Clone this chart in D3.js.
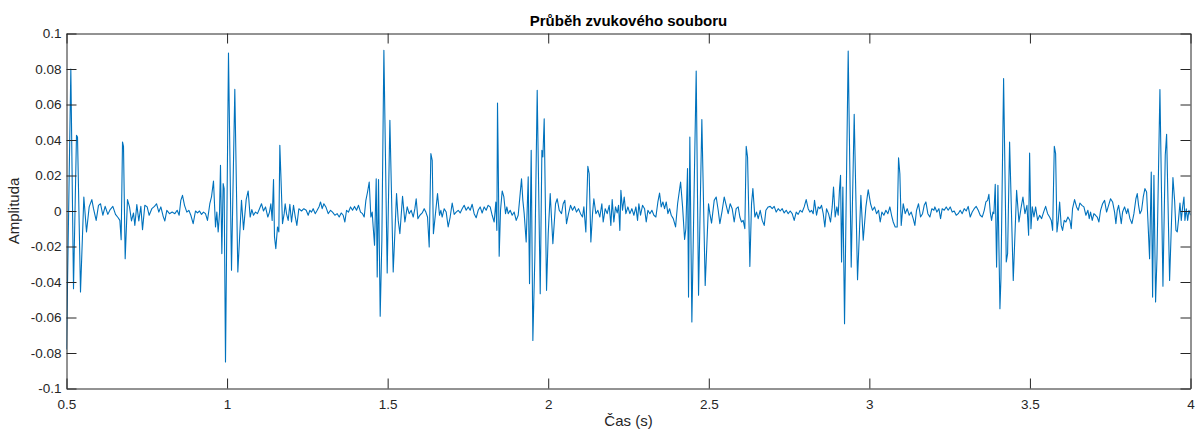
<!DOCTYPE html>
<html>
<head>
<meta charset="utf-8">
<script src="https://cdn.jsdelivr.net/npm/d3@7"></script>
<style>
  html, body { margin: 0; padding: 0; background: #ffffff; }
  svg { display: block; font-family: "Liberation Sans", Arial, Helvetica, sans-serif; }
</style>
</head>
<body>
<svg id="chart" width="1198" height="432"></svg>
<script>
// Waveform samples: [time (s), amplitude]
const waveform = [
[0.5,-0.078],[0.5135,0.080],[0.5218,-0.0438],[0.5311,0.0426],[0.5343,0.0417],[0.5436,-0.0456],[0.554,0.0079],[0.5623,-0.0118],
[0.5706,0.0023],[0.5789,0.0064],[0.5841,0.0013],[0.5924,-0.0053],[0.5996,0.0032],[0.6059,0.0041],[0.6131,-0.0024],[0.6204,0.0026],
[0.6287,-0.0019],[0.636,0.0008],[0.6443,0.0026],[0.6526,-0.0019],[0.6609,-0.0038],[0.6661,-0.0053],[0.6702,-0.0162],[0.6744,0.0389],
[0.6775,0.0364],[0.6827,-0.0269],[0.6899,0.0064],[0.6962,0.0023],[0.7024,-0.0056],[0.7086,-0.0011],[0.7128,-0.0081],[0.719,0.0036],
[0.7252,-0.0056],[0.7315,0.0026],[0.7367,-0.0105],[0.7439,0.0032],[0.7512,0.0023],[0.7574,-0.0024],[0.7657,0.0013],[0.774,0.0026],
[0.7803,0.0041],[0.7875,-0.0006],[0.7938,0.0023],[0.801,-0.003],[0.8062,-0.0056],[0.8124,0.0004],[0.8207,-0.0015],[0.829,-0.0006],
[0.8374,-0.0015],[0.8446,0.0004],[0.8508,-0.0024],[0.856,0.006],[0.8612,0.0088],[0.8675,0.0032],
[0.8747,-0.0006],[0.8809,0.0004],[0.8872,-0.0024],[0.8944,-0.0071],[0.9017,0],[0.9079,-0.0011],[0.9141,0],[0.9204,-0.0019],
[0.9266,-0.0006],[0.9328,-0.0015],[0.939,-0.0053],[0.9463,0.0041],[0.9515,0.0079],[0.9577,0.0169],[0.964,-0.009],[0.9681,-0.0006],
[0.9723,-0.0118],[0.9764,-0.0015],[0.9795,0.0257],[0.9837,-0.024],[0.9878,0.0154],[0.9909,0.0126],[0.9951,-0.0851],[1.0044,0.089],
[1.0138,-0.0334],[1.0241,0.0685],[1.0335,-0.0344],[1.0449,0.006],[1.0512,-0.0105],[1.0595,0.0064],[1.0657,0.0113],[1.0719,-0.0034],
[1.0771,0.0008],[1.0823,-0.0024],[1.0885,-0.0006],[1.0947,-0.0015],[1.101,0.0013],[1.1072,0.0041],[1.1134,0],[1.1197,0.0023],
[1.1269,-0.0034],[1.1321,-0.0006],[1.1363,0.0041],[1.1404,-0.0053],[1.1446,0.0177],[1.1477,-0.0146],[1.1518,-0.0212],[1.157,-0.009],
[1.1612,-0.0118],[1.1643,0.037],[1.1674,0.021],[1.1726,-0.0071],[1.1778,-0.0015],[1.1809,0.0041],[1.1851,-0.0015],[1.1903,-0.0053],
[1.1955,0.0038],[1.2007,-0.0062],[1.2069,0.0032],[1.2121,-0.003],[1.2173,-0.0081],[1.2235,0.0013],[1.2318,0],[1.2391,0.0013],
[1.2464,0.0004],[1.2526,-0.0024],[1.2578,0.0004],
[1.263,-0.0006],[1.2681,0.0013],[1.2744,-0.0015],[1.2806,0.0004],[1.2868,0.0026],[1.291,0.0051],[1.2962,0.0013],[1.3014,0.0041],
[1.3076,0.0023],[1.3149,-0.0015],[1.3222,0.0004],[1.3284,-0.0006],[1.3357,-0.0024],[1.3429,-0.0015],[1.3492,-0.0034],[1.3554,-0.0011],
[1.3616,-0.0024],[1.3668,-0.0062],[1.372,0.0004],[1.3782,-0.0006],[1.3845,0.0023],[1.3907,0.0004],[1.3969,0.0026],[1.4031,0.0004],
[1.4093,0.0032],[1.4156,-0.0006],[1.4218,-0.0015],[1.427,-0.0034],[1.4322,0.006],[1.4374,0.0107],[1.4426,0.0163],[1.4478,-0.0034],
[1.4519,-0.0006],[1.455,-0.009],[1.4592,-0.0193],[1.4644,0.0182],[1.4675,-0.0372],[1.4716,0.0177],[1.4768,-0.0593],[1.482,-0.0165],
[1.4883,0.0905],[1.4986,-0.0349],[1.507,0.0511],[1.5173,-0.0344],[1.5277,0.0098],[1.5329,-0.0053],[1.5381,-0.0128],[1.5464,0.0083],
[1.5537,-0.0062],[1.5609,0.0023],[1.5671,-0.0015],[1.5734,0.0004],[1.5796,-0.0034],[1.5848,0.0013],[1.5889,0.0069],[1.5941,-0.0043],
[1.6004,-0.0024],[1.6076,-0.0011],[1.6138,0.0013],[1.619,-0.0006],[1.6242,-0.0034],[1.6294,-0.0203],[1.6346,0.0323],[1.6388,0.0285],
[1.6425,-0.0128],
[1.6553,0.0098],[1.6615,-0.0024],[1.6657,0.0004],[1.6698,-0.0034],[1.6761,0.0013],[1.6823,-0.0006],[1.6885,-0.009],[1.6947,-0.0034],
[1.701,0.0045],[1.7072,-0.0019],[1.7134,-0.0006],[1.7197,0.0004],[1.7259,-0.0011],[1.7321,0.0013],[1.7383,0.0032],[1.7445,0.0004],
[1.7508,0.0023],[1.757,0.0004],[1.7632,0.0038],[1.7694,-0.0015],[1.7757,-0.0038],[1.7819,0.0004],[1.7881,0.0023],[1.7943,-0.0011],
[1.8006,0.0023],[1.8068,0.0004],[1.813,0.0032],[1.8193,0.0023],[1.8255,-0.0024],[1.8317,-0.0062],[1.8369,0.0051],[1.8401,-0.0109],
[1.8421,0.0608],[1.8442,0.0304],[1.8473,-0.0255],[1.8515,0.0004],[1.8567,0.0113],[1.8619,0.0079],[1.8671,-0.0015],[1.8712,0.0023],
[1.8754,-0.0015],[1.8816,0.0004],[1.8878,-0.0024],[1.894,-0.0006],[1.9003,-0.0053],[1.9065,-0.0024],[1.9127,0.0098],[1.9169,0.0182],
[1.921,0.006],[1.9252,-0.0015],[1.9314,-0.0175],[1.9377,0.0192],[1.9418,-0.0409],[1.947,0.0342],[1.9522,-0.0729],[1.9584,-0.0259],
[1.9657,0.068],[1.9751,-0.0466],[1.9803,0.0342],[1.9834,0.0304],[1.9875,0.052],[1.9948,-0.0447],[2.0,-0.0128],[2.0062,0.0098],
[2.0145,-0.0184],[2.0228,0.0041],[2.028,0.0069],[2.0343,0.0004],
[2.0414,-0.0015],[2.0466,0.0041],[2.0518,0.006],[2.057,-0.0071],[2.0632,-0.0015],[2.0694,0.0032],[2.0757,0.0004],[2.0819,0.0026],
[2.0881,-0.0006],[2.0943,0.0013],[2.1006,-0.0015],[2.1068,-0.0034],[2.111,0.0023],[2.1172,-0.0118],[2.1234,0.0252],[2.1276,0.021],
[2.1328,-0.0175],[2.138,-0.0015],[2.1421,0.0069],[2.1484,-0.0015],[2.1546,0.0004],[2.1608,-0.0034],[2.167,0.0041],[2.1712,-0.0062],
[2.1775,0.0013],[2.1837,-0.0015],[2.1899,0.0032],[2.1951,-0.0081],[2.1992,0.0064],[2.2044,-0.0062],[2.2096,0.0023],[2.2148,-0.0011],
[2.219,0.0032],[2.2231,-0.0109],[2.2263,0.0116],[2.2314,0.0004],[2.2366,0.0079],[2.2418,-0.0015],[2.2481,0.0023],[2.2543,-0.0015],
[2.2605,0.0013],[2.2667,-0.0024],[2.273,0.0023],[2.2782,-0.0053],[2.2823,0.0041],[2.2875,-0.0024],[2.2937,0.0032],[2.3,0.0013],
[2.3052,-0.0062],[2.3104,0.0004],[2.3166,-0.0015],[2.3228,0.0004],[2.3291,-0.0024],[2.3353,-0.0034],[2.3415,0.0051],[2.3467,0.0101],
[2.3519,0.0023],[2.3571,0.0051],[2.3623,0.0013],[2.3675,0.0051],[2.3727,-0.0015],[2.3779,0.0013],[2.3831,-0.0024],[2.3894,-0.0043],
[2.3966,-0.009],[2.4029,0.0041],[2.4122,0.0163],[2.4184,0.0023],[2.4247,-0.016],
[2.4286,-0.01],[2.4338,0.0239],[2.4369,-0.0485],[2.441,0.0417],[2.4473,-0.0625],[2.4608,0.0789],[2.4681,-0.0475],[2.4784,0.0515],
[2.4888,-0.0419],[2.4992,0.0041],[2.5034,-0.0015],[2.5086,-0.0068],[2.5169,0.006],[2.5231,0.0079],[2.5293,0.0004],[2.5345,-0.0071],
[2.5418,0.0004],[2.548,0.0079],[2.5542,0.0032],[2.5604,-0.0015],[2.5667,0.0041],[2.5729,0.0013],[2.5791,-0.0062],[2.5853,0.0013],
[2.5916,0.0023],[2.5967,-0.0034],[2.6019,-0.0062],[2.6071,-0.0053],[2.6123,-0.01],[2.6165,0.0364],[2.6207,0.0304],[2.6248,-0.0034],
[2.6279,-0.0312],[2.6331,0.0041],[2.6373,0.0126],[2.6435,-0.0034],[2.6487,-0.0006],[2.6539,-0.0043],[2.6601,0.0004],[2.6664,-0.0053],
[2.6726,-0.0081],[2.6778,0.0004],[2.685,0.0023],[2.6913,0.0026],[2.6975,0.0013],[2.7037,0.0026],[2.7099,-0.0006],[2.7162,0.0013],
[2.7224,0],[2.7286,0.0013],[2.7348,-0.0011],[2.7411,0.0004],[2.7473,-0.0015],[2.7535,0],[2.7597,-0.0015],[2.766,-0.0053],
[2.7722,-0.0006],[2.7784,-0.0019],[2.7846,0.0004],[2.7909,-0.0006],[2.7971,0.0023],[2.8033,0.0064],[2.8095,0.0013],[2.8147,-0.0006],
[2.8199,0.0004],[2.8251,-0.0015],[2.8293,0.006],[2.8355,-0.0024],[2.8407,0.0023],[2.8459,0.0013],[2.8511,0.0032],[2.8563,-0.0015],
[2.8614,-0.009],[2.8666,0.0013],[2.8729,-0.0015],[2.8791,-0.0062],[2.8843,0.0023],[2.8884,0.0135],[2.8936,-0.0034],[2.8988,0.0023],
[2.903,-0.0024],[2.9071,0.0126],[2.9103,0.0201],[2.9134,-0.0287],[2.9175,0.0135],[2.9227,-0.0635],[2.9341,0.0901],[2.9435,-0.0316],
[2.9528,0.0545],[2.9632,-0.0387],[2.9736,0.0088],[2.9809,-0.0165],[2.9892,0.0023],[2.9964,0.012],[3.0037,0.0041],[3.0099,0.0004],
[3.0161,0.0023],[3.0224,-0.0015],[3.0286,0.0004],[3.0338,-0.0062],[3.039,-0.0006],[3.0452,-0.0024],[3.0514,0.0004],[3.0577,-0.0015],
[3.0639,0.0023],[3.0691,-0.0024],[3.0743,-0.0062],[3.0805,-0.009],[3.0867,-0.009],[3.0909,0.03],[3.095,0.021],[3.0992,-0.0081],
[3.1054,0.0041],[3.1116,-0.0015],[3.1178,0.0013],[3.1241,-0.0024],[3.1303,-0.0006],[3.1365,-0.0043],[3.1417,-0.0081],[3.1469,0.0004],
[3.1531,0.0041],[3.1594,-0.0034],[3.1656,-0.0015],[3.1708,0.0032],[3.176,0.0051],[3.1822,-0.0015],[3.1884,-0.0034],[3.1947,0.0013],
[3.2009,0.0004],
[3.204,0.0023],[3.2102,-0.0006],[3.2165,0.0013],[3.2217,-0.0043],[3.2268,0.0013],[3.2331,0.0004],[3.2393,0.0023],[3.2455,0.0004],
[3.2518,0.0023],[3.258,-0.0006],[3.2642,0],[3.2705,-0.0024],[3.2767,-0.0015],[3.2829,0.0004],[3.2891,-0.0015],[3.2954,0.0013],
[3.3016,0],[3.3078,0.0026],[3.3141,-0.0034],[3.3203,-0.0006],[3.3265,0.0013],[3.3328,0.0026],[3.339,0.0004],[3.3452,-0.0024],
[3.3515,-0.0034],[3.3577,0.0004],[3.3629,0.0051],[3.3681,0.006],[3.3722,0.0094],[3.3764,-0.0006],[3.3806,-0.0053],[3.3847,-0.0006],
[3.3878,-0.0015],[3.392,0.015],[3.3962,-0.0316],[3.4003,0.0145],[3.4066,-0.055],[3.4097,-0.0381],[3.418,0.0746],[3.4263,-0.0287],
[3.4305,-0.024],[3.4367,0.0389],[3.4481,-0.0391],[3.4585,0.0116],[3.4658,-0.0062],[3.472,0.0013],[3.4782,0.0079],[3.4845,-0.0015],
[3.4907,0.0032],[3.4959,-0.0137],[3.499,0.0327],[3.5032,-0.01],[3.5073,0.0023],[3.5125,-0.0034],[3.5177,0.0023],[3.524,-0.0053],
[3.5302,-0.0024],[3.5364,-0.0043],[3.5426,-0.0006],[3.5489,0.0026],[3.5551,-0.0015],[3.5613,-0.0034],[3.5665,-0.0053],[3.5707,-0.0109],
[3.5759,0.0364],[3.58,0.0323],[3.5842,-0.0118],[3.5883,-0.0053],[3.5925,0.0051],
[3.5974,-0.0081],[3.6016,-0.0109],[3.6068,-0.0053],[3.612,-0.0062],[3.6182,-0.0034],[3.6244,-0.0053],[3.6286,-0.01],[3.6327,0.0013],
[3.639,0.0064],[3.6452,0.0023],[3.6504,0.0004],[3.6556,0.0045],[3.6618,0.0032],[3.6681,0.0023],[3.6743,-0.0024],[3.6805,0.0004],
[3.6847,-0.0043],[3.6888,-0.0006],[3.694,-0.0053],[3.6992,-0.0015],[3.7044,-0.0024],[3.7096,-0.0034],[3.7148,-0.0062],[3.72,0.0004],
[3.7262,0.0041],[3.7325,0.006],[3.7387,-0.0006],[3.7449,0.0032],[3.7511,0.0069],[3.7574,0.0051],[3.7636,-0.0006],[3.7677,-0.0071],
[3.7719,0.0004],[3.7761,0.0032],[3.7802,-0.0015],[3.7844,-0.0071],[3.7885,-0.0006],[3.7947,0.0023],[3.801,-0.0015],[3.8051,0.0013],
[3.8114,-0.0043],[3.8176,-0.0071],[3.8238,-0.0015],[3.83,0.0069],[3.8342,0.0098],[3.8383,0.0032],[3.8425,-0.0015],[3.8477,0.0004],
[3.8529,0.0079],[3.8581,0.0126],[3.8633,0.0107],[3.8674,-0.0053],[3.8726,-0.0269],[3.8778,0.022],[3.882,-0.0485],[3.8861,0.0201],
[3.8913,-0.0513],[3.8955,-0.0269],[3.9048,0.0684],[3.9142,-0.0424],[3.9214,0.0314],[3.9256,0.0432],[3.9349,-0.0391],[3.9453,0.0188],
[3.9505,0.006],[3.9547,-0.0109],[3.9588,-0.0118],[3.963,-0.0043],[3.9672,0.0045],[3.9713,-0.0053],[3.9755,0.0023],[3.9796,0.0079],
[3.9827,-0.0053],[3.9869,0.0013],[3.9911,-0.0053],[3.9952,0.0004],[4.0,-0.0024]
];

// Axis limits and ticks
const timeRange = [0.5, 4];
const amplitudeRange = [-0.1, 0.1];
const xTicks = [0.5, 1, 1.5, 2, 2.5, 3, 3.5, 4];
const xTickLabels = ["0.5", "1", "1.5", "2", "2.5", "3", "3.5", "4"];
const yTicks = [0.1, 0.08, 0.06, 0.04, 0.02, 0, -0.02, -0.04, -0.06, -0.08, -0.1];
const yTickLabels = ["0.1", "0.08", "0.06", "0.04", "0.02", "0", "-0.02", "-0.04", "-0.06", "-0.08", "-0.1"];

const titleText = "Průběh zvukového souboru";
const xLabelText = "Čas (s)";
const yLabelText = "Amplituda";

const plot = { left: 66.5, right: 1190.5, top: 33.5, bottom: 388.5 };
const axisColor = "#262626";
const lineColor = "#0072BD";

const svg = d3.select("#chart");

const x = d3.scaleLinear().domain(timeRange).range([plot.left, plot.right]);
const y = d3.scaleLinear().domain(amplitudeRange).range([plot.bottom, plot.top]);

svg.append("rect").attr("width", 1198).attr("height", 432).attr("fill", "#ffffff");

svg.append("defs").append("clipPath").attr("id", "plot-clip")
  .append("rect")
  .attr("x", plot.left).attr("y", plot.top)
  .attr("width", plot.right - plot.left).attr("height", plot.bottom - plot.top);

// Signal trace
const line = d3.line().x(d => x(d[0])).y(d => y(d[1]));
svg.append("path")
  .datum(waveform)
  .attr("clip-path", "url(#plot-clip)")
  .attr("fill", "none")
  .attr("stroke", lineColor)
  .attr("stroke-width", 1.1)
  .attr("stroke-linejoin", "round")
  .attr("d", line);

// Box axes with inward ticks on all four sides
const tickLen = 10;
const xFmt = (d) => xTickLabels[xTicks.indexOf(d)];
const yFmt = (d) => yTickLabels[yTicks.indexOf(d)];

function styleAxis(g) {
  g.select(".domain").attr("stroke", axisColor).attr("stroke-width", 1);
  g.selectAll(".tick line").attr("stroke", axisColor).attr("stroke-width", 1);
  g.selectAll(".tick text").attr("fill", axisColor).style("font-size", "13.5px");
  g.attr("font-family", null);
}

svg.append("g")
  .attr("transform", `translate(0,${plot.bottom})`)
  .call(d3.axisBottom(x).tickValues(xTicks).tickFormat(xFmt).tickSizeInner(-tickLen).tickSizeOuter(0).tickPadding(11))
  .call(styleAxis);

svg.append("g")
  .attr("transform", `translate(0,${plot.top})`)
  .call(d3.axisTop(x).tickValues(xTicks).tickFormat("").tickSizeInner(-tickLen).tickSizeOuter(0))
  .call(styleAxis);

svg.append("g")
  .attr("transform", `translate(${plot.left},0)`)
  .call(d3.axisLeft(y).tickValues(yTicks).tickFormat(yFmt).tickSizeInner(-tickLen).tickSizeOuter(0).tickPadding(5))
  .call(styleAxis);

svg.append("g")
  .attr("transform", `translate(${plot.right},0)`)
  .call(d3.axisRight(y).tickValues(yTicks).tickFormat("").tickSizeInner(-tickLen).tickSizeOuter(0))
  .call(styleAxis);

// Titles
const midX = (plot.left + plot.right) / 2;
svg.append("text")
  .attr("x", midX).attr("y", 26)
  .attr("text-anchor", "middle")
  .attr("fill", "#000000")
  .style("font-size", "15px").style("font-weight", "bold")
  .text(titleText);

svg.append("text")
  .attr("x", midX).attr("y", 426)
  .attr("text-anchor", "middle")
  .attr("fill", axisColor)
  .style("font-size", "15px")
  .text(xLabelText);

svg.append("text")
  .attr("transform", `translate(19,${(plot.top + plot.bottom) / 2}) rotate(-90)`)
  .attr("text-anchor", "middle")
  .attr("fill", axisColor)
  .style("font-size", "15px")
  .text(yLabelText);
</script>
</body>
</html>
